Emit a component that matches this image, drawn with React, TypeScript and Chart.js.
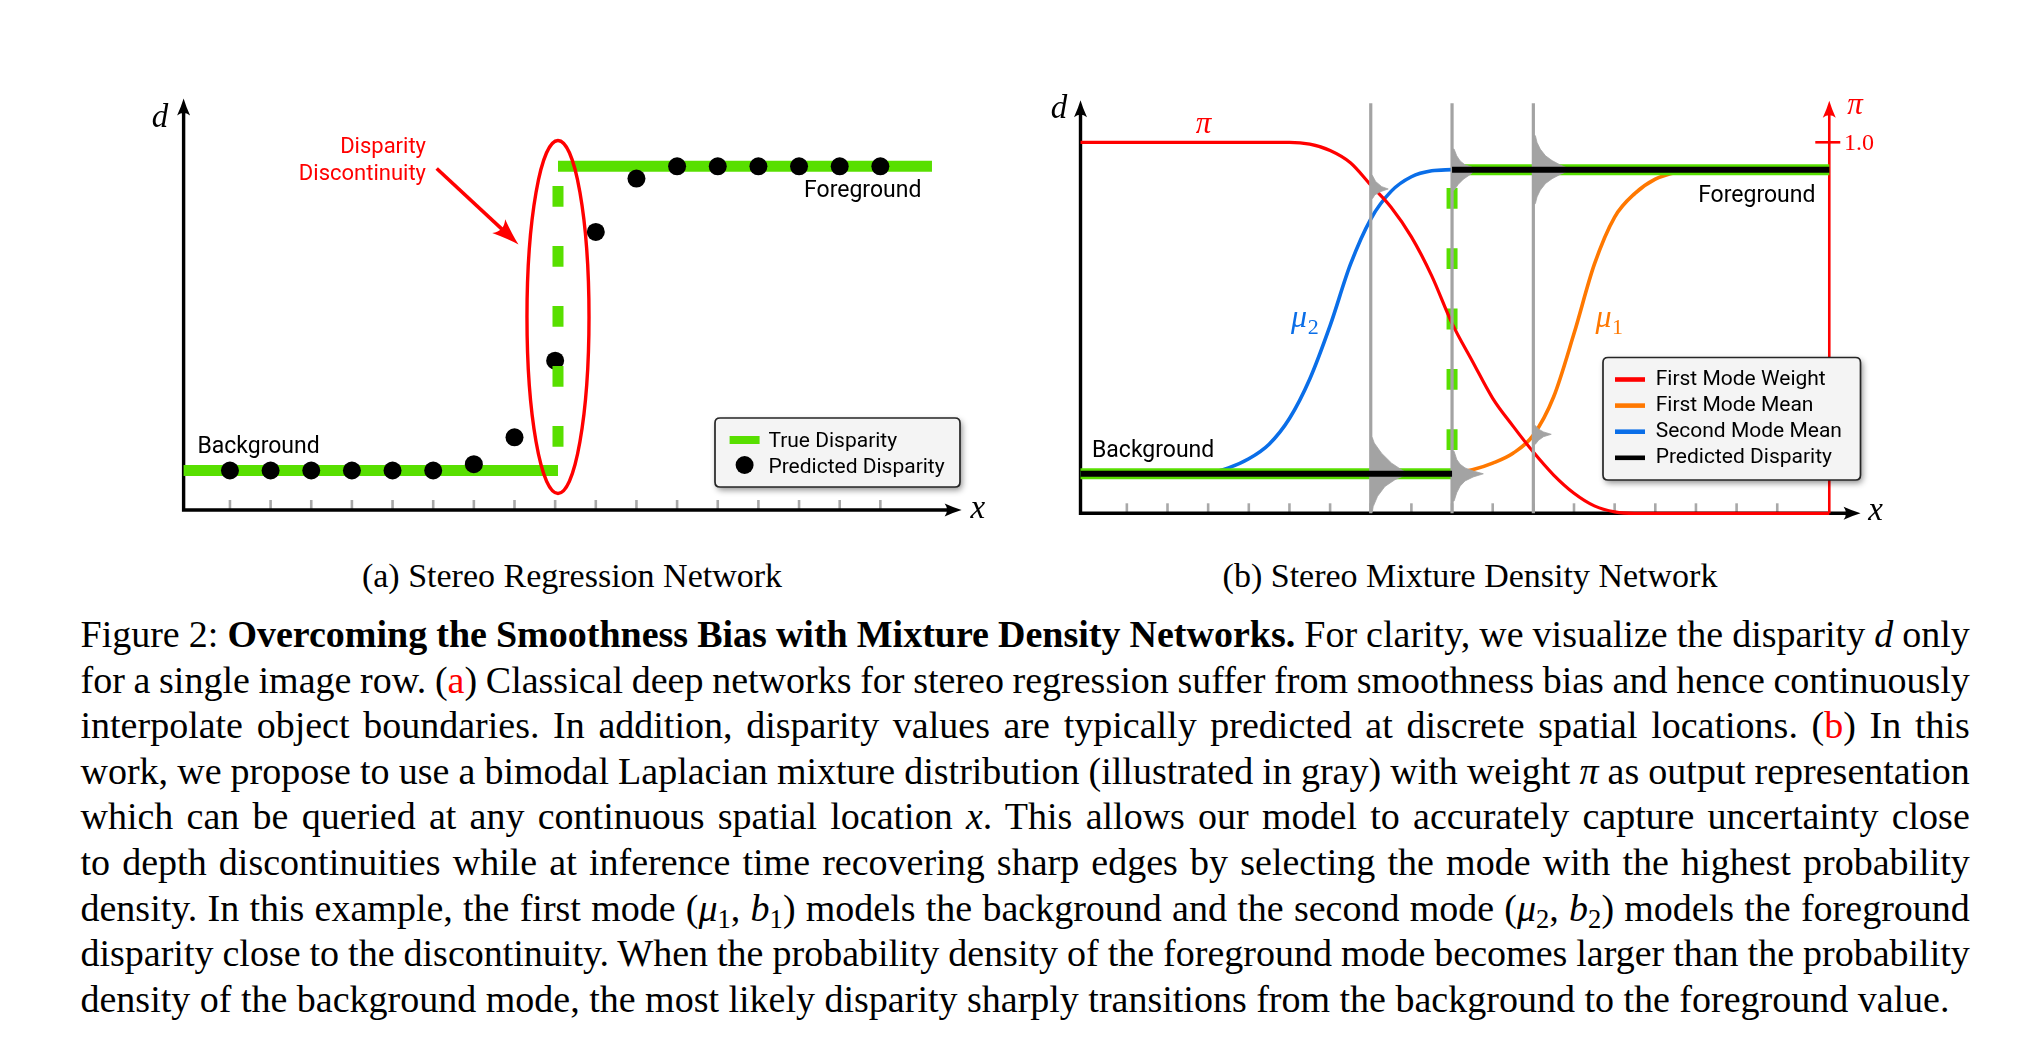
import React, { useEffect, useLayoutEffect, useRef } from "react";
import { Chart, registerables } from "chart.js";

Chart.register(...registerables);

// ===================== data =====================
const X_TICKS = [1, 2, 3, 4, 5, 6, 7, 8, 9, 10, 11, 12, 13, 14, 15, 16, 17];
const AXIS_U0 = -0.14;

// (a) Stereo Regression Network
const A_TRUE_X = [-0.14, 9.07, 9.07, 18.27];
const A_TRUE_D = [1.0, 1.0, 8.7, 8.7];
const A_PRED_X = [1, 2, 3, 4, 5, 6, 7, 8, 9, 10, 11, 12, 13, 14, 15, 16, 17];
const A_PRED_D = [1.0, 1.0, 1.0, 1.0, 1.0, 1.0, 1.16, 1.84, 3.78, 7.04, 8.39, 8.7, 8.7, 8.7, 8.7, 8.7, 8.7];

// (b) Stereo Mixture Density Network
const B_TRUE_X = [-0.14, 9, 9, 18.28];
const B_TRUE_D = [1.0, 1.0, 8.7, 8.7];
const B_PRED_X = [-0.14, 9, 9, 18.28];
const B_PRED_D = [1.0, 1.0, 8.7, 8.7];
const B_PI_X = [-0.14, 1, 2, 3, 4, 5, 5.5, 6, 6.5, 7, 7.5, 8, 8.5, 9, 9.5, 10, 10.5, 11, 11.5, 12, 12.5, 13, 13.5, 14, 15, 16, 17, 18.28];
const B_PI = [1, 1, 1, 1, 1, 1, 0.995, 0.978, 0.945, 0.885, 0.825, 0.745, 0.64, 0.512, 0.41, 0.31, 0.235, 0.165, 0.103, 0.054, 0.02, 0.004, 0, 0, 0, 0, 0, 0];
const B_MU2_X = [-0.14, 1, 2, 3, 3.5, 4, 4.5, 5, 5.5, 6, 6.5, 7, 7.5, 8, 8.5, 9];
const B_MU2 = [1, 1, 1, 1.02, 1.15, 1.38, 1.75, 2.4, 3.4, 4.75, 6.3, 7.45, 8.15, 8.52, 8.67, 8.7];
const B_MU1_X = [9, 9.5, 10, 10.5, 11, 11.5, 12, 12.5, 13, 13.5, 14, 14.5, 15];
const B_MU1 = [1.0, 1.1, 1.27, 1.52, 1.98, 2.95, 4.55, 6.3, 7.5, 8.1, 8.46, 8.63, 8.7];
const B_MODE_X = [7, 9, 11];
const B_MODE_TOP = 10.38;
// Laplacian mixture components (gray): location x, mode value, and read profile (offset in d, width in x)
const B_LAP_X = [7, 7, 9, 9, 11, 11];
const B_LAP_MU = [1.0, 8.21, 8.7, 1.0, 8.7, 2.0];
const B_LAP_OFF = [
  [0.92, 0.78, 0.52, 0.27, 0.1, 0, -0.15, -0.32, -0.57, -0.83, -0.97],
  [0.35, 0.19, 0.06, 0, -0.07, -0.15, -0.24],
  [0.52, 0.35, 0.22, 0.12, 0.07, 0, -0.1, -0.24, -0.37, -0.52],
  [0.57, 0.365, 0.24, 0.15, 0.07, 0, -0.08, -0.18, -0.31, -0.48, -0.69],
  [0.86, 0.69, 0.52, 0.35, 0.23, 0.12, 0, -0.12, -0.23, -0.35, -0.52, -0.69, -0.86],
  [0.22, 0.13, 0.06, 0, -0.06, -0.15, -0.25],
];
const B_LAP_W = [
  [0.037, 0.086, 0.266, 0.512, 0.758, 0.923, 0.595, 0.349, 0.167, 0.06, 0.037],
  [0.037, 0.12, 0.27, 0.43, 0.23, 0.1, 0.045],
  [0.05, 0.115, 0.2, 0.32, 0.48, 0.55, 0.48, 0.28, 0.155, 0.05],
  [0.05, 0.115, 0.2, 0.32, 0.52, 0.77, 0.52, 0.32, 0.2, 0.115, 0.05],
  [0.05, 0.09, 0.17, 0.3, 0.46, 0.66, 0.93, 0.66, 0.46, 0.3, 0.17, 0.09, 0.05],
  [0.05, 0.13, 0.25, 0.44, 0.25, 0.13, 0.05],
];
const B_PI_TICK = 1.0;
const B_PI_TICK_LABEL = "1.0";

// ===================== styles / layout =====================
const GREEN = "#58df00";
const GRAY = "#a3a3a3";
const TICK_GRAY = "#a8a8a8";
const RED = "#ff0000";
const ORANGE = "#ff7800";
const BLUE = "#0a6ee8";
const ROBOTO = 'Roboto, "Noto Sans", sans-serif';
const SERIF = '"Liberation Serif", "DejaVu Serif", serif';
const LABEL_FONT = `23px ${ROBOTO}`;
const NOTE_FONT = `22px ${ROBOTO}`;
const LEGEND_FONT = `21px ${ROBOTO}`;
const AXIS_VAR_FONT = `italic 33px ${SERIF}`;

type Geom = { left: number; top: number; width: number; height: number; x0: number; ux: number; y0: number; ud: number };
const GA: Geom = { left: 100, top: 60, width: 915, height: 490, x0: 189.3, ux: 40.65, y0: 510, ud: 39.5 };
const GB: Geom = { left: 1020, top: 60, width: 900, height: 490, x0: 1086.2, ux: 40.65, y0: 513.3, ud: 39.5 };
const PI_UNIT = 371;

const xRange = (g: Geom) => ({ min: (g.left - g.x0) / g.ux, max: (g.left + g.width - g.x0) / g.ux });
const yRange = (g: Geom, unit: number) => ({ min: (g.y0 - (g.top + g.height)) / unit, max: (g.y0 - g.top) / unit });

const pts = (xs: number[], ys: number[]) => xs.map((x, i) => ({ x, y: ys[i] }));

function lineDs(label: string, data: any[], color: string, width: number, order: number, extra: any = {}) {
  return {
    type: "line",
    label,
    data,
    borderColor: color,
    backgroundColor: color,
    borderWidth: width,
    pointRadius: 0,
    pointHoverRadius: 0,
    fill: false,
    tension: 0,
    borderCapStyle: "butt",
    borderJoinStyle: "round",
    order,
    ...extra,
  };
}

function arrowHead(ctx: CanvasRenderingContext2D, x: number, y: number, ang: number, color: string, len = 17, half = 6.5) {
  ctx.save();
  ctx.translate(x, y);
  ctx.rotate(ang);
  ctx.beginPath();
  ctx.moveTo(0, 0);
  ctx.quadraticCurveTo(-len * 0.45, -half * 0.35, -len, -half);
  ctx.quadraticCurveTo(-len * 0.72, 0, -len, half);
  ctx.quadraticCurveTo(-len * 0.45, half * 0.35, 0, 0);
  ctx.closePath();
  ctx.fillStyle = color;
  ctx.fill();
  ctx.restore();
}

function txt(ctx: CanvasRenderingContext2D, s: string, x: number, y: number, font: string, color: string, align: CanvasTextAlign = "left") {
  ctx.font = font;
  ctx.fillStyle = color;
  ctx.textAlign = align;
  ctx.textBaseline = "alphabetic";
  ctx.fillText(s, x, y);
}

function mathSub(ctx: CanvasRenderingContext2D, base: string, sub: string, x: number, y: number, color: string) {
  ctx.font = `italic 32px ${SERIF}`;
  ctx.fillStyle = color;
  ctx.textAlign = "left";
  ctx.textBaseline = "alphabetic";
  ctx.fillText(base, x, y);
  const w = ctx.measureText(base).width;
  ctx.font = `22px ${SERIF}`;
  ctx.fillText(sub, x + w + 0.5, y + 7);
}

function legendBox(ctx: CanvasRenderingContext2D, x: number, y: number, w: number, h: number) {
  ctx.save();
  ctx.beginPath();
  const r = 5;
  ctx.moveTo(x + r, y);
  ctx.lineTo(x + w - r, y);
  ctx.quadraticCurveTo(x + w, y, x + w, y + r);
  ctx.lineTo(x + w, y + h - r);
  ctx.quadraticCurveTo(x + w, y + h, x + w - r, y + h);
  ctx.lineTo(x + r, y + h);
  ctx.quadraticCurveTo(x, y + h, x, y + h - r);
  ctx.lineTo(x, y + r);
  ctx.quadraticCurveTo(x, y, x + r, y);
  ctx.closePath();
  ctx.shadowColor = "rgba(0,0,0,0.45)";
  ctx.shadowBlur = 6;
  ctx.shadowOffsetX = 2;
  ctx.shadowOffsetY = 3;
  ctx.fillStyle = "#f4f4f4";
  ctx.fill();
  ctx.shadowColor = "transparent";
  ctx.lineWidth = 1.7;
  ctx.strokeStyle = "#262626";
  ctx.stroke();
  ctx.restore();
}

function drawAxes(chart: any, xTip: number, dTip: number) {
  const ctx: CanvasRenderingContext2D = chart.ctx;
  const xs = chart.scales.x, ys = chart.scales.y;
  const x0 = xs.getPixelForValue(AXIS_U0);
  const y0 = ys.getPixelForValue(0);
  const xt = xs.getPixelForValue(xTip);
  const yt = ys.getPixelForValue(dTip);
  ctx.save();
  ctx.strokeStyle = TICK_GRAY;
  ctx.lineWidth = 2.6;
  for (const t of X_TICKS) {
    const x = xs.getPixelForValue(t);
    ctx.beginPath();
    ctx.moveTo(x, y0);
    ctx.lineTo(x, y0 - 10);
    ctx.stroke();
  }
  ctx.strokeStyle = "#000";
  ctx.lineWidth = 3.4;
  ctx.lineJoin = "miter";
  ctx.beginPath();
  ctx.moveTo(x0, yt + 9);
  ctx.lineTo(x0, y0);
  ctx.lineTo(xt - 9, y0);
  ctx.stroke();
  arrowHead(ctx, x0, yt, -Math.PI / 2, "#000");
  arrowHead(ctx, xt, y0, 0, "#000");
  ctx.restore();
}

// ---- chart (a) plugin ----
const plugA = {
  id: "figA",
  beforeDatasetsDraw(chart: any) {
    drawAxes(chart, 19.0, 10.42);
  },
  afterDatasetsDraw(chart: any) {
    const ctx: CanvasRenderingContext2D = chart.ctx;
    const xs = chart.scales.x, ys = chart.scales.y;
    const P = (u: number, d: number) => [xs.getPixelForValue(u), ys.getPixelForValue(d)];
    ctx.save();
    // discontinuity ellipse
    const [cx, cy] = P(A_TRUE_X[1], 4.886);
    const rx = Math.abs(xs.getPixelForValue(A_TRUE_X[1] + 0.763) - cx);
    const ry = Math.abs(ys.getPixelForValue(4.886 + 4.468) - cy);
    ctx.beginPath();
    ctx.ellipse(cx, cy, rx, ry, 0, 0, Math.PI * 2);
    ctx.strokeStyle = RED;
    ctx.lineWidth = 3.4;
    ctx.stroke();
    // arrow
    const [ax0, ay0] = P(6.086, 8.646);
    const [ax1, ay1] = P(8.098, 6.722);
    const ang = Math.atan2(ay1 - ay0, ax1 - ax0);
    ctx.beginPath();
    ctx.moveTo(ax0, ay0);
    ctx.lineTo(ax1 - Math.cos(ang) * 16, ay1 - Math.sin(ang) * 16);
    ctx.lineWidth = 3.6;
    ctx.stroke();
    arrowHead(ctx, ax1, ay1, ang, RED, 27, 9.5);
    // labels
    let p = P(5.823, 9.043);
    txt(ctx, "Disparity", p[0], p[1], NOTE_FONT, RED, "right");
    p = P(5.823, 8.354);
    txt(ctx, "Discontinuity", p[0], p[1], NOTE_FONT, RED, "right");
    p = P(18.01, 7.93);
    txt(ctx, "Foreground", p[0], p[1], LABEL_FONT, "#000", "right");
    p = P(0.2, 1.45);
    txt(ctx, "Background", p[0], p[1], LABEL_FONT, "#000", "left");
    p = P(-0.72, 9.7);
    txt(ctx, "d", p[0], p[1], AXIS_VAR_FONT, "#000", "center");
    p = P(19.4, -0.21);
    txt(ctx, "x", p[0], p[1], AXIS_VAR_FONT, "#000", "center");
    // legend
    const L = { x: 715 - GA.left, y: 418 - GA.top, w: 245, h: 69 };
    legendBox(ctx, L.x, L.y, L.w, L.h);
    const ds = chart.data.datasets;
    ctx.strokeStyle = GREEN;
    ctx.lineWidth = 8;
    ctx.lineCap = "butt";
    ctx.beginPath();
    ctx.moveTo(L.x + 14.6, L.y + 22);
    ctx.lineTo(L.x + 44.6, L.y + 22);
    ctx.stroke();
    ctx.beginPath();
    ctx.arc(L.x + 29.6, L.y + 47, 9, 0, Math.PI * 2);
    ctx.fillStyle = "#000";
    ctx.fill();
    txt(ctx, ds[0].label, L.x + 53.4, L.y + 28.7, LEGEND_FONT, "#000");
    txt(ctx, ds[2].label, L.x + 53.4, L.y + 55.3, LEGEND_FONT, "#000");
    ctx.restore();
  },
};

// ---- chart (b) plugin ----
const plugB = {
  id: "figB",
  beforeDatasetsDraw(chart: any) {
    drawAxes(chart, 19.05, 10.46);
    const ctx: CanvasRenderingContext2D = chart.ctx;
    const xs = chart.scales.x, pis = chart.scales.pi;
    const xr = xs.getPixelForValue(B_PI_X[B_PI_X.length - 1]);
    const yb = pis.getPixelForValue(0);
    const yt = pis.getPixelForValue(1.112);
    ctx.save();
    ctx.strokeStyle = RED;
    ctx.lineWidth = 2.6;
    ctx.beginPath();
    ctx.moveTo(xr, yb);
    ctx.lineTo(xr, yt + 9);
    ctx.stroke();
    arrowHead(ctx, xr, yt, -Math.PI / 2, RED);
    const ytk = pis.getPixelForValue(B_PI_TICK);
    ctx.beginPath();
    ctx.moveTo(xr - 14, ytk);
    ctx.lineTo(xr + 11, ytk);
    ctx.stroke();
    ctx.restore();
  },
  afterDatasetsDraw(chart: any) {
    const ctx: CanvasRenderingContext2D = chart.ctx;
    const xs = chart.scales.x, ys = chart.scales.y, pis = chart.scales.pi;
    const P = (u: number, d: number) => [xs.getPixelForValue(u), ys.getPixelForValue(d)];
    ctx.save();
    let p = P(-0.669, 10.0);
    txt(ctx, "d", p[0], p[1], AXIS_VAR_FONT, "#000", "center");
    p = P(19.42, -0.17);
    txt(ctx, "x", p[0], p[1], AXIS_VAR_FONT, "#000", "center");
    p = P(18.91, 10.1);
    txt(ctx, "π", p[0], p[1], `italic 31px ${SERIF}`, RED, "center");
    const xr = xs.getPixelForValue(B_PI_X[B_PI_X.length - 1]);
    txt(ctx, B_PI_TICK_LABEL, xr + 14.6, pis.getPixelForValue(B_PI_TICK) + 8.1, `24px ${SERIF}`, RED, "left");
    p = P(2.888, 9.64);
    txt(ctx, "π", p[0], p[1], `italic 31px ${SERIF}`, RED, "center");
    p = P(5.04, 4.72);
    mathSub(ctx, "μ", "2", p[0], p[1], BLUE);
    p = P(12.53, 4.72);
    mathSub(ctx, "μ", "1", p[0], p[1], ORANGE);
    p = P(17.94, 7.89);
    txt(ctx, "Foreground", p[0], p[1], LABEL_FONT, "#000", "right");
    p = P(0.143, 1.43);
    txt(ctx, "Background", p[0], p[1], LABEL_FONT, "#000", "left");
    // legend
    const L = { x: 1603 - GB.left, y: 357.5 - GB.top, w: 257.5, h: 122.5 };
    legendBox(ctx, L.x, L.y, L.w, L.h);
    const ds = chart.data.datasets;
    const entries = [ds[2], ds[1], ds[0], ds[ds.length - 1]];
    entries.forEach((e: any, i: number) => {
      const by = L.y + 27.5 + i * 26.1;
      ctx.strokeStyle = e.borderColor;
      ctx.lineWidth = 4.6;
      ctx.lineCap = "butt";
      ctx.beginPath();
      ctx.moveTo(L.x + 12, by - 5.5);
      ctx.lineTo(L.x + 42, by - 5.5);
      ctx.stroke();
      txt(ctx, e.label, L.x + 52.7, by, LEGEND_FONT, "#000");
    });
    ctx.restore();
  },
};

function lapPoints(i: number) {
  const x = B_LAP_X[i], mu = B_LAP_MU[i], off = B_LAP_OFF[i], w = B_LAP_W[i];
  return [
    { x, y: mu + off[0] },
    ...off.map((o, k) => ({ x: x + w[k], y: mu + o })),
    { x, y: mu + off[off.length - 1] },
  ];
}

const baseOptions = (scales: any) =>
  ({
    animation: false,
    responsive: false,
    events: [],
    layout: { padding: 0, autoPadding: false },
    scales,
    plugins: { legend: { display: false }, tooltip: { enabled: false } },
  } as any);

function makeA(canvas: HTMLCanvasElement) {
  const xr = xRange(GA), yr = yRange(GA, GA.ud);
  return new Chart(canvas, {
    type: "line",
    data: {
      datasets: [
        lineDs("True Disparity", pts(A_TRUE_X.slice(0, 2), A_TRUE_D.slice(0, 2)), GREEN, 11, 5),
        lineDs("True Disparity (foreground)", pts(A_TRUE_X.slice(2, 4), A_TRUE_D.slice(2, 4)), GREEN, 11, 5),
        {
          type: "line",
          label: "Predicted Disparity",
          data: pts(A_PRED_X, A_PRED_D),
          showLine: false,
          pointRadius: 9,
          pointHoverRadius: 9,
          pointBorderWidth: 0,
          pointBackgroundColor: "#000",
          borderColor: "#000",
          order: 4,
        },
        lineDs("True Disparity (jump)", pts(A_TRUE_X.slice(1, 3), A_TRUE_D.slice(1, 3)), GREEN, 11, 3, {
          borderDash: [20.7, 39.3],
          borderDashOffset: 36.2,
        }),
      ] as any,
    },
    options: baseOptions({
      x: { type: "linear", min: xr.min, max: xr.max, display: false },
      y: { type: "linear", min: yr.min, max: yr.max, display: false },
    }),
    plugins: [plugA],
  });
}

function makeB(canvas: HTMLCanvasElement) {
  const xr = xRange(GB), yr = yRange(GB, GB.ud), pr = yRange(GB, PI_UNIT);
  const grayLines = B_MODE_X.map((x) => lineDs("mode", pts([x, x], [0, B_MODE_TOP]), GRAY, 3.2, 5));
  const shapes = B_LAP_X.map((_, i) =>
    lineDs("laplace", lapPoints(i), GRAY, 0.8, 4, { fill: "shape", backgroundColor: GRAY })
  );
  return new Chart(canvas, {
    type: "line",
    data: {
      datasets: [
        lineDs("Second Mode Mean", pts(B_MU2_X, B_MU2), BLUE, 3.6, 10, { cubicInterpolationMode: "monotone" }),
        lineDs("First Mode Mean", pts(B_MU1_X, B_MU1), ORANGE, 3.6, 9, { cubicInterpolationMode: "monotone" }),
        lineDs("First Mode Weight", pts(B_PI_X, B_PI), RED, 3.2, 7, { cubicInterpolationMode: "monotone", yAxisID: "pi" }),
        lineDs("True Disparity (jump)", pts(B_TRUE_X.slice(1, 3), B_TRUE_D.slice(1, 3)), GREEN, 11, 8, {
          borderDash: [20.8, 39.5],
          borderDashOffset: 36.5,
        }),
        lineDs("True Disparity", pts(B_TRUE_X.slice(0, 2), B_TRUE_D.slice(0, 2)), GREEN, 11, 6),
        lineDs("True Disparity (foreground)", pts(B_TRUE_X.slice(2, 4), B_TRUE_D.slice(2, 4)), GREEN, 11, 6),
        ...grayLines,
        ...shapes,
        lineDs("Predicted Disparity (foreground)", pts(B_PRED_X.slice(2, 4), B_PRED_D.slice(2, 4)), "#000", 6, 3),
        lineDs("Predicted Disparity", pts(B_PRED_X.slice(0, 2), B_PRED_D.slice(0, 2)), "#000", 6, 3),
      ] as any,
    },
    options: baseOptions({
      x: { type: "linear", min: xr.min, max: xr.max, display: false },
      y: { type: "linear", min: yr.min, max: yr.max, display: false },
      pi: { type: "linear", position: "right", min: pr.min, max: pr.max, display: false },
    }),
    plugins: [plugB],
  });
}

function ChartCanvas({ g, make }: { g: Geom; make: (c: HTMLCanvasElement) => Chart }) {
  const ref = useRef<HTMLCanvasElement>(null);
  useEffect(() => {
    if (!ref.current) return;
    const ch = make(ref.current);
    return () => ch.destroy();
  }, []);
  return (
    <canvas
      ref={ref}
      width={g.width}
      height={g.height}
      style={{ position: "absolute", left: g.left, top: g.top, width: g.width, height: g.height, display: "block" }}
    />
  );
}

// ===================== caption =====================
const CAP_LEFT = 80.5;
const CAP_WIDTH = 1889.3;
const CAP_TOP = 612;
const CAP_PITCH = 45.6;
const CAP_FONT = 38;

function Sub({ children }: { children: any }) {
  return <span style={{ fontSize: "0.7em", verticalAlign: "-0.25em", lineHeight: 0, fontStyle: "normal" }}>{children}</span>;
}
const Red = ({ children }: { children: any }) => <span style={{ color: RED }}>{children}</span>;

function CaptionLine({ index, last, children }: { index: number; last?: boolean; children: any }) {
  const ref = useRef<HTMLSpanElement>(null);
  useLayoutEffect(() => {
    const el = ref.current;
    if (!el || last) return;
    el.style.wordSpacing = "0px";
    const w = el.getBoundingClientRect().width;
    const n = (el.textContent || "").split(" ").length - 1;
    if (n > 0) el.style.wordSpacing = `${(CAP_WIDTH - w) / n}px`;
  }, [last]);
  return (
    <div
      style={{
        position: "absolute",
        left: CAP_LEFT,
        top: CAP_TOP + index * CAP_PITCH,
        whiteSpace: "nowrap",
        fontFamily: SERIF,
        fontSize: CAP_FONT,
        lineHeight: `${CAP_PITCH}px`,
        color: "#000",
      }}
    >
      <span ref={ref}>{children}</span>
    </div>
  );
}

function SubCaption({ cx, children }: { cx: number; children: any }) {
  return (
    <div
      style={{
        position: "absolute",
        left: cx - 400,
        width: 800,
        top: 555.5,
        textAlign: "center",
        fontFamily: SERIF,
        fontSize: 34,
        lineHeight: "40px",
        color: "#000",
        whiteSpace: "nowrap",
      }}
    >
      {children}
    </div>
  );
}

export default function App() {
  return (
    <div style={{ position: "absolute", left: 0, top: 0, width: 2036, height: 1041, background: "#fff", overflow: "hidden" }}>
      <ChartCanvas g={GA} make={makeA} />
      <ChartCanvas g={GB} make={makeB} />
      <SubCaption cx={572}>(a) Stereo Regression Network</SubCaption>
      <SubCaption cx={1470}>(b) Stereo Mixture Density Network</SubCaption>
      <CaptionLine index={0}>
        Figure 2: <b>Overcoming the Smoothness Bias with Mixture Density Networks.</b> For clarity, we visualize the disparity <i>d</i> only
      </CaptionLine>
      <CaptionLine index={1}>
        for a single image row. (<Red>a</Red>) Classical deep networks for stereo regression suffer from smoothness bias and hence continuously
      </CaptionLine>
      <CaptionLine index={2}>
        interpolate object boundaries. In addition, disparity values are typically predicted at discrete spatial locations. (<Red>b</Red>) In this
      </CaptionLine>
      <CaptionLine index={3}>
        work, we propose to use a bimodal Laplacian mixture distribution (illustrated in gray) with weight <i>π</i> as output representation
      </CaptionLine>
      <CaptionLine index={4}>
        which can be queried at any continuous spatial location <i>x</i>. This allows our model to accurately capture uncertainty close
      </CaptionLine>
      <CaptionLine index={5}>
        to depth discontinuities while at inference time recovering sharp edges by selecting the mode with the highest probability
      </CaptionLine>
      <CaptionLine index={6}>
        density. In this example, the first mode (<i>μ</i>
        <Sub>1</Sub>, <i>b</i>
        <Sub>1</Sub>) models the background and the second mode (<i>μ</i>
        <Sub>2</Sub>, <i>b</i>
        <Sub>2</Sub>) models the foreground
      </CaptionLine>
      <CaptionLine index={7}>
        disparity close to the discontinuity. When the probability density of the foreground mode becomes larger than the probability
      </CaptionLine>
      <CaptionLine index={8} last>
        density of the background mode, the most likely disparity sharply transitions from the background to the foreground value.
      </CaptionLine>
    </div>
  );
}
